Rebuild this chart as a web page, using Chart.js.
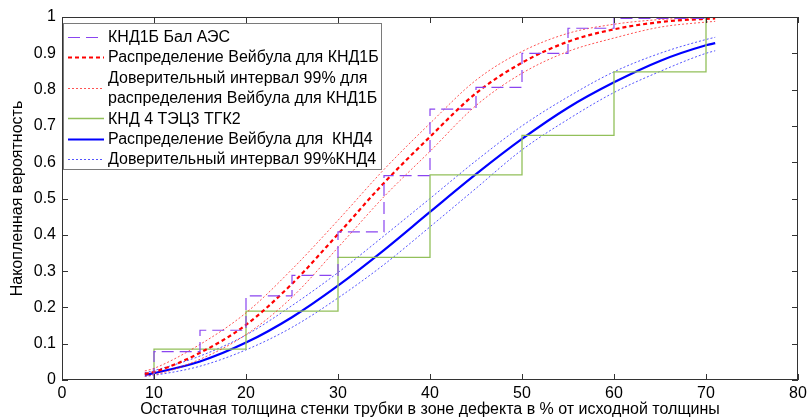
<!DOCTYPE html>
<html>
<head>
<meta charset="utf-8">
<script src="https://cdn.jsdelivr.net/npm/chart.js@4"></script>
<style>
  html, body { margin: 0; padding: 0; background: #fff; }
  #wrap { width: 809px; height: 419px; }
</style>
</head>
<body>
<div id="wrap"><canvas id="weibullChart" width="809" height="419"></canvas></div>
<script>
// ступенчатые эмпирические функции
const stepX1 = [10, 10, 15, 20, 25, 30, 35, 40, 45, 50, 55, 60, 70];
const stepY1 = [0, 0.078, 0.137, 0.232, 0.288, 0.408, 0.563, 0.746, 0.806, 0.90, 0.969, 0.996, 0.996];
const stepX4 = [10, 10, 20, 30, 40, 50, 60, 70];
const stepY4 = [0, 0.085, 0.19, 0.338, 0.565, 0.674, 0.849, 1.0];

// кривые Вейбула
const curveX = [9, 10, 15, 20, 25, 30, 35, 40, 45, 50, 55, 60, 65, 70, 71];
const weib1 = [0.017, 0.022, 0.075, 0.152, 0.265, 0.402, 0.543, 0.670, 0.790, 0.874, 0.932, 0.966, 0.986, 0.995, 0.996];
const weib1Up = [0.025, 0.032, 0.098, 0.185, 0.305, 0.440, 0.580, 0.707, 0.826, 0.905, 0.955, 0.980, 0.993, 0.998, 0.999];
const weib1Lo = [0.011, 0.014, 0.057, 0.125, 0.228, 0.365, 0.505, 0.630, 0.756, 0.845, 0.905, 0.942, 0.972, 0.986, 0.988];
const weib4 = [0.014, 0.019, 0.051, 0.103, 0.173, 0.260, 0.358, 0.463, 0.567, 0.664, 0.750, 0.820, 0.879, 0.922, 0.928];
const weib4Up = [0.020, 0.026, 0.066, 0.124, 0.205, 0.296, 0.397, 0.500, 0.604, 0.700, 0.780, 0.849, 0.900, 0.938, 0.944];
const weib4Lo = [0.010, 0.013, 0.038, 0.083, 0.145, 0.226, 0.318, 0.422, 0.528, 0.634, 0.718, 0.792, 0.850, 0.900, 0.907];

const xTicks = [0, 10, 20, 30, 40, 50, 60, 70, 80];
const yTicks = [0, 0.1, 0.2, 0.3, 0.4, 0.5, 0.6, 0.7, 0.8, 0.9, 1];

const FONT = '"Liberation Sans", Arial, sans-serif';
const FSIZE = 16;

function pts(xs, ys) {
  return xs.map((x, i) => ({ x: x, y: ys[i] }));
}

const colPurple = '#8a45f0';
const colRed = '#ff0000';
const colRedCI = 'rgba(255,40,40,0.8)';
const colGreen = '#92c05a';
const colBlue = '#0000ff';
const colBlueCI = 'rgba(40,40,255,0.8)';

const datasets = [
  { label: 'КНД1Б Бал АЭС', data: pts(stepX1, stepY1), stepped: 'before', borderColor: colPurple, borderWidth: 1.2, borderDash: [12, 6] },
  { label: 'Распределение Вейбула для КНД1Б', data: pts(curveX, weib1), borderColor: colRed, borderWidth: 2.2, borderDash: [4, 3], cubicInterpolationMode: 'monotone' },
  { label: 'ci1up', data: pts(curveX, weib1Up), borderColor: colRedCI, borderWidth: 1, borderDash: [2, 2], cubicInterpolationMode: 'monotone' },
  { label: 'ci1lo', data: pts(curveX, weib1Lo), borderColor: colRedCI, borderWidth: 1, borderDash: [2, 2], cubicInterpolationMode: 'monotone' },
  { label: 'КНД 4 ТЭЦ3 ТГК2', data: pts(stepX4, stepY4), stepped: 'before', borderColor: colGreen, borderWidth: 1.3 },
  { label: 'Распределение Вейбула для  КНД4', data: pts(curveX, weib4), borderColor: colBlue, borderWidth: 2.2, cubicInterpolationMode: 'monotone' },
  { label: 'ci4up', data: pts(curveX, weib4Up), borderColor: colBlueCI, borderWidth: 1, borderDash: [2, 2], cubicInterpolationMode: 'monotone' },
  { label: 'ci4lo', data: pts(curveX, weib4Lo), borderColor: colBlueCI, borderWidth: 1, borderDash: [2, 2], cubicInterpolationMode: 'monotone' },
];
datasets.forEach((d) => { d.pointRadius = 0; d.fill = false; d.tension = 0; });

// элементы легенды: строки текста + индекс набора данных для образца линии
const legendRows = [
  { text: ['КНД1Б Бал АЭС'], ds: 0 },
  { text: ['Распределение Вейбула для КНД1Б'], ds: 1 },
  { text: ['Доверительный интервал 99% для', 'распределения Вейбула для КНД1Б'], ds: 2 },
  { text: ['КНД 4 ТЭЦ3 ТГК2'], ds: 4 },
  { text: ['Распределение Вейбула для  КНД4'], ds: 5 },
  { text: ['Доверительный интервал 99%КНД4'], ds: 6 },
];

// рамка осей с внутренними засечками (как в MATLAB)
const framePlugin = {
  id: 'frame',
  afterDatasetsDraw(chart) {
    const { ctx, chartArea: a, scales } = chart;
    ctx.save();
    ctx.strokeStyle = '#333';
    ctx.lineWidth = 1;
    ctx.setLineDash([]);
    ctx.strokeRect(a.left + 0.5, a.top + 0.5, a.right - a.left - 1, a.bottom - a.top - 1);
    const tl = 6;
    ctx.beginPath();
    xTicks.forEach((v) => {
      const px = Math.round(scales.x.getPixelForValue(v)) + 0.5;
      ctx.moveTo(px, a.bottom); ctx.lineTo(px, a.bottom - tl);
      ctx.moveTo(px, a.top); ctx.lineTo(px, a.top + tl);
    });
    yTicks.forEach((v) => {
      const py = Math.round(scales.y.getPixelForValue(v)) + 0.5;
      ctx.moveTo(a.left, py); ctx.lineTo(a.left + tl, py);
      ctx.moveTo(a.right, py); ctx.lineTo(a.right - tl, py);
    });
    ctx.stroke();
    ctx.restore();
  },
  afterDraw(chart) {
    const { ctx, chartArea: a } = chart;
    const bx = a.left + 1, by = a.top + 6, bw = 319, bh = 147;
    const lineH = 20.4;
    ctx.save();
    ctx.fillStyle = '#fff';
    ctx.fillRect(bx, by, bw, bh);
    ctx.strokeStyle = '#7a7a7a';
    ctx.lineWidth = 1;
    ctx.setLineDash([]);
    ctx.strokeRect(bx + 0.5, by + 0.5, bw - 1, bh - 1);
    ctx.font = FSIZE + 'px ' + FONT;
    ctx.textBaseline = 'middle';
    ctx.textAlign = 'left';
    let row = 0;
    legendRows.forEach((item) => {
      const ds = chart.data.datasets[item.ds];
      const y0 = by + 13.5 + row * lineH;
      const yLine = Math.round(y0 + (item.text.length - 1) * lineH / 2) + 0.5;
      ctx.strokeStyle = ds.borderColor;
      ctx.lineWidth = ds.borderWidth;
      ctx.setLineDash(ds.borderDash || []);
      ctx.beginPath();
      ctx.moveTo(bx + 5, yLine);
      ctx.lineTo(bx + 41, yLine);
      ctx.stroke();
      ctx.setLineDash([]);
      ctx.fillStyle = '#000';
      item.text.forEach((t, k) => {
        ctx.fillText(t, bx + 45, y0 + k * lineH + 1);
      });
      row += item.text.length;
    });
    ctx.restore();
  },
};

const ctx = document.getElementById('weibullChart').getContext('2d');
new Chart(ctx, {
  type: 'line',
  data: { datasets: datasets },
  options: {
    responsive: false,
    animation: false,
    layout: { padding: { top: 17, right: 11, left: 0, bottom: 0 } },
    plugins: { legend: { display: false }, tooltip: { enabled: false } },
    scales: {
      x: {
        type: 'linear', min: 0, max: 80,
        afterBuildTicks: (s) => { s.ticks = xTicks.map((v) => ({ value: v })); },
        afterFit: (s) => { s.height = 39; },
        grid: { display: false },
        border: { display: false },
        ticks: { color: '#000', padding: -4, maxRotation: 0, font: { family: FONT, size: FSIZE }, callback: (v) => String(v) },
        title: {
          display: true, text: 'Остаточная толщина стенки трубки в зоне дефекта в % от исходной толщины',
          color: '#000', padding: { top: 0, bottom: 0 }, font: { family: FONT, size: FSIZE },
        },
      },
      y: {
        type: 'linear', min: 0, max: 1,
        afterBuildTicks: (s) => { s.ticks = yTicks.map((v) => ({ value: v })); },
        afterFit: (s) => { s.width = 62; },
        grid: { display: false },
        border: { display: false },
        ticks: { color: '#000', padding: -2, font: { family: FONT, size: FSIZE }, callback: (v) => String(v) },
        title: {
          display: true, text: 'Накопленная вероятность',
          color: '#000', padding: { top: 8, bottom: 0 }, font: { family: FONT, size: FSIZE },
        },
      },
    },
  },
  plugins: [framePlugin],
});
</script>
</body>
</html>
